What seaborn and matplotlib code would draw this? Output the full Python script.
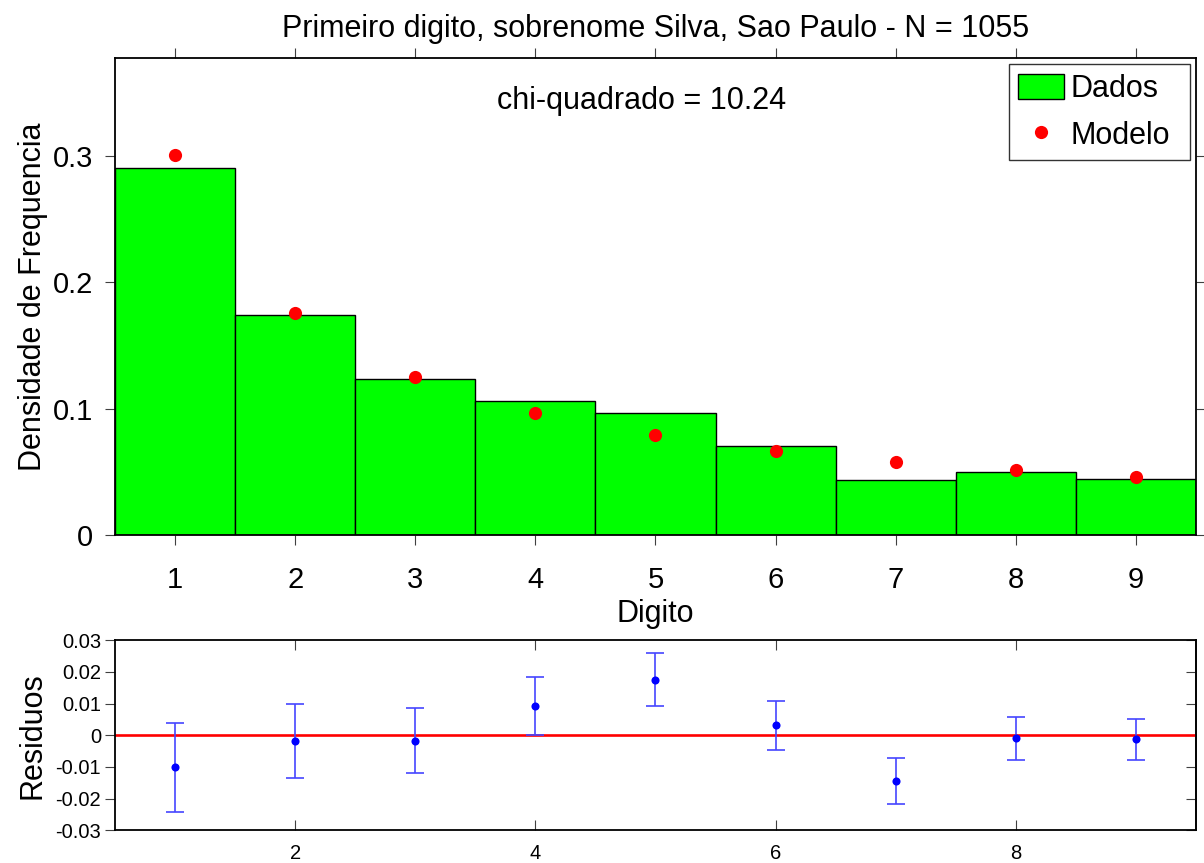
import matplotlib
matplotlib.use("Agg")
import matplotlib.pyplot as plt
from matplotlib.patches import Patch
from matplotlib.lines import Line2D
import numpy as np
import pandas as pd
import seaborn as sns

# First-digit frequencies for the surname Silva (Sao Paulo) against Benford's law
digitos = [1, 2, 3, 4, 5, 6, 7, 8, 9]
dados = [0.2910, 0.1744, 0.1232, 0.1062, 0.0967, 0.0701, 0.0436, 0.0502, 0.0445]
modelo = [0.3010, 0.1761, 0.1249, 0.0969, 0.0792, 0.0669, 0.0580, 0.0512, 0.0458]
residuos = [-0.0101, -0.0017, -0.0017, 0.0093, 0.0175, 0.0032, -0.0144, -0.0010, -0.0013]
erros = [0.0141, 0.0117, 0.0102, 0.0091, 0.0083, 0.0077, 0.0072, 0.0068, 0.0064]

titulo = "Primeiro digito, sobrenome Silva, Sao Paulo - N = 1055"
texto_chi = "chi-quadrado = 10.24"
y_ticks_top = [0, 0.1, 0.2, 0.3]
y_labels_top = ["0", "0.1", "0.2", "0.3"]
y_ticks_res = [0.03, 0.02, 0.01, 0, -0.01, -0.02, -0.03]
y_labels_res = ["0.03", "0.02", "0.01", "0", "-0.01", "-0.02", "-0.03"]
x_ticks_res = [2, 4, 6, 8]

sns.set_style("white")
plt.rcParams["font.family"] = ["Liberation Sans", "DejaVu Sans"]
plt.rcParams["axes.unicode_minus"] = False
plt.rcParams["text.color"] = "black"
plt.rcParams["axes.labelcolor"] = "black"
plt.rcParams["xtick.labelcolor"] = "black"
plt.rcParams["ytick.labelcolor"] = "black"

df = pd.DataFrame({"digito": digitos, "dados": dados, "modelo": modelo,
                   "residuo": residuos, "erro": erros})

fig = plt.figure(figsize=(12.04, 8.63), dpi=100)
ax1 = fig.add_axes([0.09551, 0.38007, 0.89785, 0.55307])
ax2 = fig.add_axes([0.09551, 0.03766, 0.89785, 0.22074])

# --- histogram panel ---
sns.barplot(data=df, x="digito", y="dados", native_scale=True, width=1.0,
            color="#00ff00", saturation=1, edgecolor="black", linewidth=1.0,
            ax=ax1, zorder=2)
sns.scatterplot(data=df, x="digito", y="modelo", color="red", s=90,
                linewidth=0, ax=ax1, zorder=3, legend=False)

ax1.set_xlim(0.5, 9.5)
ax1.set_ylim(0, 0.378)
ax1.set_xticks(digitos)
ax1.set_xticklabels([str(d) for d in digitos])
ax1.set_yticks(y_ticks_top)
ax1.set_yticklabels(y_labels_top)
ax1.tick_params(axis="both", direction="out", length=7, width=0.8,
                color="#404040", labelcolor="black", labelsize=21,
                top=True, right=True, bottom=True, left=True)
ax1.tick_params(axis="x", pad=15)
ax1.tick_params(axis="y", pad=9)
for sp in ax1.spines.values():
    sp.set_visible(True)
    sp.set_color("black")
    sp.set_linewidth(1.3)
ax1.set_xlabel("Digito", fontsize=22, labelpad=4)
ax1.set_ylabel("Densidade de Frequencia", fontsize=22, labelpad=3)
ax1.set_title(titulo, fontsize=22, pad=15)
ax1.text(0.487, 0.909, texto_chi, transform=ax1.transAxes,
         ha="center", va="center", fontsize=22)

handles = [Patch(facecolor="#00ff00", edgecolor="black", linewidth=1.0),
           Line2D([], [], marker="o", color="red", linestyle="none",
                  markersize=9.5, markeredgewidth=0)]
leg = ax1.legend(handles, ["Dados", "Modelo"], loc="upper left",
                 bbox_to_anchor=(0.827, 0.986, 0.1675, 0.0), mode="expand",
                 borderaxespad=0, fontsize=22, frameon=True, fancybox=False,
                 handlelength=1.5, handleheight=0.9, handletextpad=0.22,
                 borderpad=0.3, labelspacing=0.55)
leg.get_frame().set_edgecolor("black")
leg.get_frame().set_linewidth(1.0)

# --- residuals panel ---
ax2.axhline(0, color="red", linewidth=1.9, zorder=2)
ax2.errorbar(df["digito"], df["residuo"], yerr=df["erro"], fmt="none",
             ecolor="#4646ff", elinewidth=1.2, capsize=6.5, capthick=1.2,
             zorder=3)
sns.scatterplot(data=df, x="digito", y="residuo", color="blue", s=34,
                linewidth=0, ax=ax2, zorder=4, legend=False)
ax2.set_xlim(0.5, 9.5)
ax2.set_ylim(-0.03, 0.03)
ax2.set_xticks(x_ticks_res)
ax2.set_xticklabels([str(t) for t in x_ticks_res])
ax2.set_yticks(y_ticks_res)
ax2.set_yticklabels(y_labels_res)
ax2.set_xlabel("")
ax2.set_ylabel("Residuos", fontsize=22, labelpad=6)
ax2.tick_params(axis="x", direction="in", length=7, width=0.8,
                color="#404040", labelcolor="black", labelsize=14.5,
                top=True, bottom=True, pad=10)
ax2.tick_params(axis="y", direction="out", length=7, width=0.8,
                color="#404040", labelcolor="black", labelsize=14.5,
                left=True, right=False, pad=3)
sec = ax2.secondary_yaxis("right")
sec.set_yticks(y_ticks_res)
sec.tick_params(direction="in", length=7, width=0.8, color="#404040",
                labelright=False)
sec.spines["right"].set_linewidth(1.3)
for sp in ax2.spines.values():
    sp.set_visible(True)
    sp.set_color("black")
    sp.set_linewidth(1.3)

fig.savefig("out.png", dpi=100)
